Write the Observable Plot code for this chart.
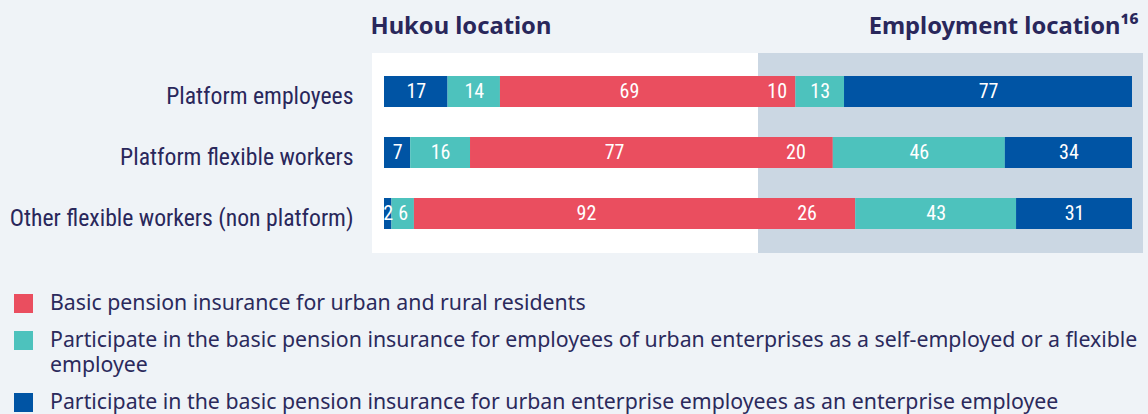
<!DOCTYPE html>
<html>
<head>
<meta charset="utf-8">
<script src="https://cdn.jsdelivr.net/npm/d3@7"></script>
<script src="https://cdn.jsdelivr.net/npm/@observablehq/plot@0.6"></script>
<style>
  html, body { margin: 0; padding: 0; background: #eff3f7; width: 1148px; height: 414px; overflow: hidden; }
  #wrap { position: relative; width: 1148px; height: 414px; }
  #chart svg { display: block; background: transparent; }
  #legend { position: absolute; left: 14px; top: 289px; font-family: "Noto Sans", sans-serif; font-size: 21.3px; line-height: 25px; color: #2b2a5c; }
  .item { display: flex; align-items: flex-start; margin-bottom: 12px; }
  .sw { width: 19px; height: 19px; margin-top: 5px; margin-right: 17px; flex: none; }
  .lab { width: 1100px; }
</style>
</head>
<body>
<div id="wrap">
  <div id="chart"></div>
  <div id="legend"></div>
</div>
<script>
// ---- data ----
const categories = ["Platform employees", "Platform flexible workers", "Other flexible workers (non platform)"];
const seriesNames = [
  "Basic pension insurance for urban and rural residents",
  "Participate in the basic pension insurance for employees of urban enterprises as a self-employed or a flexible employee",
  "Participate in the basic pension insurance for urban enterprise employees as an enterprise employee"
];
const seriesColors = ["#ea4e5f", "#4dc2bd", "#0054a4"];
const panels = ["Hukou location", "Employment location¹⁶"];

// Hukou location (stack order: enterprise employee, flexible, residents)
const hukouEnterprise = [17, 7, 2];
const hukouFlexible = [14, 16, 6];
const hukouResidents = [69, 77, 92];
// Employment location (stack order: residents, flexible, enterprise employee)
const empResidents = [10, 20, 26];
const empFlexible = [13, 46, 43];
const empEnterprise = [77, 34, 31];

// ---- build segments ----
const segments = [];
function addStack(offset, parts) {
  categories.forEach((cat, i) => {
    let acc = offset;
    for (const [values, s] of parts) {
      const v = values[i];
      segments.push({category: cat, series: seriesNames[s], value: v, x1: acc, x2: acc + v});
      acc += v;
    }
  });
}
addStack(0, [[hukouEnterprise, 2], [hukouFlexible, 1], [hukouResidents, 0]]);
addStack(100, [[empResidents, 0], [empFlexible, 1], [empEnterprise, 2]]);

const panelRects = [
  {name: panels[0], x1: 0, x2: 100, fill: "#ffffff"},
  {name: panels[1], x1: 100, x2: 200, fill: "#cbd7e3"}
];

const navy = "#29275b";

const chart = Plot.plot({
  width: 1148,
  height: 262,
  marginTop: 53,
  marginBottom: 9,
  marginLeft: 372,
  marginRight: 5,
  style: {background: "transparent", overflow: "visible"},
  x: {domain: [0, 200], insetLeft: 12, insetRight: 11, axis: null},
  y: {domain: categories, paddingInner: 0.484, paddingOuter: 0.355, axis: null},
  color: {domain: seriesNames, range: seriesColors},
  marks: [
    Plot.rect([panelRects[0]], {x1: "x1", x2: "x2", fill: "fill", insetLeft: -12}),
    Plot.rect([panelRects[1]], {x1: "x1", x2: "x2", fill: "fill", insetRight: -11}),
    Plot.barX(segments, {x1: "x1", x2: "x2", y: "category", fill: "series"}),
    Plot.text(segments, {
      x: d => (d.x1 + d.x2) / 2, y: "category", text: d => String(d.value),
      fill: "white", fontSize: 20, fontFamily: "'Roboto Condensed', sans-serif"
    }),
    Plot.text(categories, {
      y: d => d, text: d => d, frameAnchor: "left", textAnchor: "end", dx: -19, dy: 4,
      fill: navy, fontSize: 23.7, fontFamily: "'Roboto Condensed', sans-serif"
    }),
    Plot.text([panelRects[0]], {
      x: "x1", text: "name", frameAnchor: "top", textAnchor: "start", dx: -14, dy: -36,
      fill: navy, fontSize: 23.75, fontWeight: 700, fontFamily: "'Noto Sans', sans-serif"
    }),
    Plot.text([panelRects[1]], {
      x: "x2", text: "name", frameAnchor: "top", textAnchor: "end", dx: 6, dy: -36,
      fill: navy, fontSize: 23.75, fontWeight: 700, fontFamily: "'Noto Sans', sans-serif"
    })
  ]
});
document.getElementById("chart").appendChild(chart);

// ---- legend ----
const legend = document.getElementById("legend");
seriesNames.forEach((name, i) => {
  const item = document.createElement("div");
  item.className = "item";
  const sw = document.createElement("div");
  sw.className = "sw";
  sw.style.background = seriesColors[i];
  const lab = document.createElement("div");
  lab.className = "lab";
  lab.textContent = name;
  item.appendChild(sw);
  item.appendChild(lab);
  legend.appendChild(item);
});
</script>
</body>
</html>
